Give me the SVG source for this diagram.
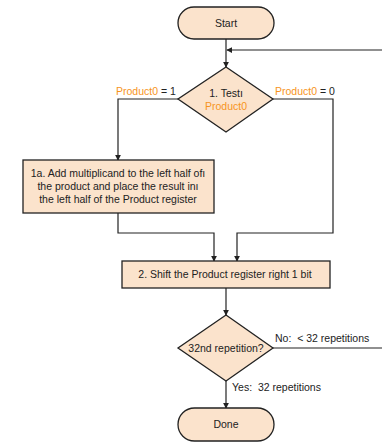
<svg xmlns="http://www.w3.org/2000/svg" width="382" height="442" viewBox="0 0 382 442">
  <style>
    .shape { fill: #fbe3cc; stroke: #222; stroke-width: 1.3; }
    .wire { fill: none; stroke: #222; stroke-width: 1.2; }
    text { font-family: "Liberation Sans", Arial, sans-serif; font-size: 10.5px; fill: #222; }
    .c { text-anchor: middle; }
    .o { fill: #f7941d; }
  </style>
  <defs>
    <marker id="arrow" viewBox="0 0 8 8" refX="7" refY="4" markerWidth="6" markerHeight="6" orient="auto" markerUnits="userSpaceOnUse">
      <path d="M0,0 L8,4 L0,8 z" fill="#222"/>
    </marker>
  </defs>
  <rect width="382" height="442" fill="#fff"/>

  <g id="connectors">
    <path class="wire" d="M226,39 V67" marker-end="url(#arrow)"/>
    <path class="wire" d="M382,50 H227" marker-end="url(#arrow)"/>
    <path class="wire" d="M178,99 H118 V160" marker-end="url(#arrow)"/>
    <path class="wire" d="M273,99 H333 V233 H237 V261" marker-end="url(#arrow)"/>
    <path class="wire" d="M118,213 V233 H214 V261" marker-end="url(#arrow)"/>
    <path class="wire" d="M226,288 V315" marker-end="url(#arrow)"/>
    <path class="wire" d="M273,348 H382"/>
    <path class="wire" d="M226,381 V408" marker-end="url(#arrow)"/>
    <text x="116" y="95"><tspan class="o">Product0</tspan> = 1</text>
    <text x="275" y="95"><tspan class="o">Product0</tspan> = 0</text>
    <text x="275" y="342">No:&#160; &lt; 32 repetitions</text>
    <text x="232" y="391">Yes:&#160; 32 repetitions</text>
  </g>

  <g id="start">
    <rect class="shape" x="178" y="7" width="96" height="32" rx="16"/>
    <text class="c" x="226" y="27">Start</text>
  </g>

  <g id="test">
    <polygon class="shape" points="226,67 273,99 226,132 178,99"/>
    <text class="c" x="226" y="97">1. Testı</text>
    <text class="c o" x="226" y="110">Product0</text>
  </g>

  <g id="add">
    <rect class="shape" x="23" y="160" width="191" height="53"/>
    <text class="c" x="118" y="177">1a. Add multiplicand to the left half ofı</text>
    <text class="c" x="118" y="190">the product and place the result inı</text>
    <text class="c" x="118" y="203">the left half of the Product register</text>
  </g>

  <g id="shift">
    <rect class="shape" x="122" y="261" width="208" height="27"/>
    <text class="c" x="225" y="278">2. Shift the Product register right 1 bit</text>
  </g>

  <g id="repeat">
    <polygon class="shape" points="226,315 273,348 226,381 178,348"/>
    <text class="c" x="226" y="352">32nd repetition?</text>
  </g>

  <g id="done">
    <rect class="shape" x="178" y="408" width="96" height="33" rx="16.5"/>
    <text class="c" x="226" y="428">Done</text>
  </g>
</svg>
